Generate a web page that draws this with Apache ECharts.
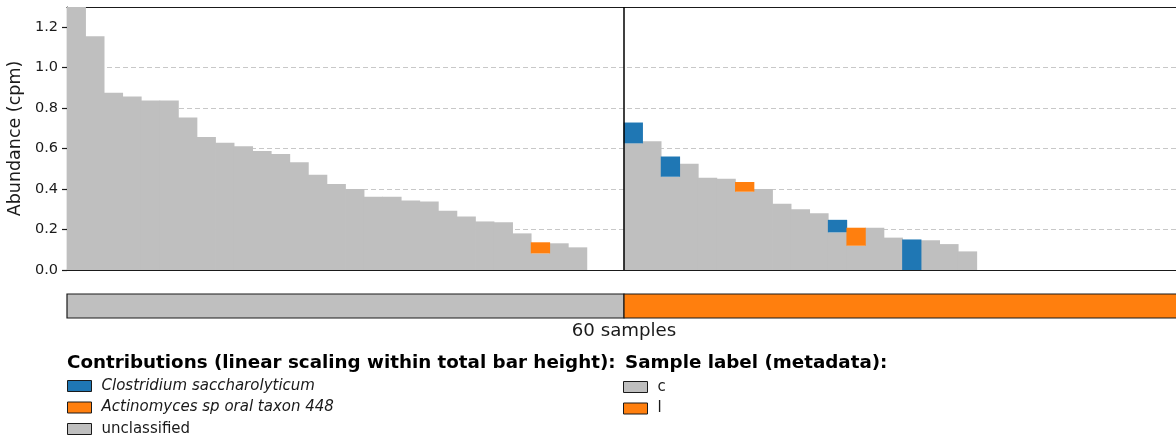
<!DOCTYPE html>
<html>
<head>
<meta charset="utf-8">
<script src="https://cdn.jsdelivr.net/npm/echarts@6/dist/echarts.min.js"></script>
<style>
html,body{margin:0;padding:0;background:#fff;}
#chart{width:1176px;height:441px;}
</style>
</head>
<body>
<div id="chart"></div>
<script>
// ---- data ----
const sampleGroup = [
  'c','c','c','c','c','c','c','c','c','c','c','c','c','c','c','c','c','c','c','c','c','c','c','c','c','c','c','c','c','c',
  'l','l','l','l','l','l','l','l','l','l','l','l','l','l','l','l','l','l','l','l','l','l','l','l','l','l','l','l','l','l'
];
const unclassified = [
  1.40, 1.155, 0.876, 0.858, 0.838, 0.838, 0.754, 0.658, 0.629, 0.612,
  0.588, 0.573, 0.533, 0.471, 0.425, 0.400, 0.362, 0.362, 0.344, 0.339,
  0.293, 0.265, 0.240, 0.236, 0.181, 0.082, 0.132, 0.112, 0, 0,
  0.626, 0.637, 0.461, 0.525, 0.456, 0.451, 0.387, 0.400, 0.327, 0.300,
  0.280, 0.186, 0.120, 0.209, 0.160, 0, 0.147, 0.128, 0.092, 0,
  0, 0, 0, 0, 0, 0, 0, 0, 0, 0
];
const clostridium = [
  0, 0, 0, 0, 0, 0, 0, 0, 0, 0,
  0, 0, 0, 0, 0, 0, 0, 0, 0, 0,
  0, 0, 0, 0, 0, 0, 0, 0, 0, 0,
  0.103, 0, 0.100, 0, 0, 0, 0, 0, 0, 0,
  0, 0.062, 0, 0, 0, 0.151, 0, 0, 0, 0,
  0, 0, 0, 0, 0, 0, 0, 0, 0, 0
];
const actinomyces = [
  0, 0, 0, 0, 0, 0, 0, 0, 0, 0,
  0, 0, 0, 0, 0, 0, 0, 0, 0, 0,
  0, 0, 0, 0, 0, 0.055, 0, 0, 0, 0,
  0, 0, 0, 0, 0, 0, 0.048, 0, 0, 0,
  0, 0, 0.089, 0, 0, 0, 0, 0, 0, 0,
  0, 0, 0, 0, 0, 0, 0, 0, 0, 0
];
const yTicks = [0, 0.2, 0.4, 0.6, 0.8, 1.0, 1.2];
const taxaNames = ['Clostridium saccharolyticum', 'Actinomyces sp oral taxon 448', 'unclassified'];
const groupNames = ['c', 'l'];

// ---- derived ----
const categories = sampleGroup.map((g, i) => g + (i + 1));
const nSamples = sampleGroup.length;
const groupRanges = groupNames.map(g => {
  const s = sampleGroup.indexOf(g);
  const e = sampleGroup.lastIndexOf(g) + 1;
  return [s, e];
});
const boundaries = groupRanges.slice(1).map(r => r[0]);
const nz = arr => arr.map(v => (v > 0 ? v : '-'));

const FONT = 'DejaVu Sans';
const colors = { c: '#bfbfbf', l: '#ff7f0e' };
const taxaColors = ['#1f77b4', '#ff7f0e', '#bfbfbf'];
const YMAX = 1.3;

const chart = echarts.init(document.getElementById('chart'), null, { renderer: 'canvas' });

const groupSeries = groupNames.map((g, gi) => ({
  name: g,
  type: 'custom',
  xAxisIndex: 2,
  yAxisIndex: 1,
  color: colors[g],
  itemStyle: { color: colors[g] },
  silent: true,
  data: [groupRanges[gi]],
  renderItem: function (params, api) {
    const p0 = api.coord([api.value(0), 1]);
    const p1 = api.coord([api.value(1), 0]);
    return {
      type: 'rect',
      shape: { x: p0[0], y: p0[1], width: p1[0] - p0[0], height: p1[1] - p0[1] },
      style: { fill: colors[g], stroke: '#1a1a1a', lineWidth: 1.2 }
    };
  }
}));

function barStyle(c) {
  return { color: c, borderWidth: 0 };
}

const option = {
  animation: false,
  backgroundColor: '#fff',
  textStyle: { fontFamily: FONT },
  grid: [
    { left: 67, right: -5, top: 7, height: 263, containLabel: false, outerBoundsMode: 'none' },
    { left: 67, right: -5, top: 294, height: 24, containLabel: false, outerBoundsMode: 'none' }
  ],
  xAxis: [
    {
      type: 'category', gridIndex: 0, data: categories,
      axisLine: { show: true, lineStyle: { color: '#1a1a1a', width: 1.2 } },
      axisTick: { show: false }, axisLabel: { show: false }, splitLine: { show: false }
    },
    {
      type: 'value', gridIndex: 0, min: 0, max: nSamples, position: 'top',
      axisLine: { show: true, onZero: false, lineStyle: { color: '#1a1a1a', width: 1.2 } },
      axisTick: { show: false }, axisLabel: { show: false }, splitLine: { show: false }
    },
    {
      type: 'value', gridIndex: 1, min: 0, max: nSamples,
      axisLine: { show: false }, axisTick: { show: false }, axisLabel: { show: false }, splitLine: { show: false },
      name: nSamples + ' samples', nameLocation: 'middle', nameGap: 4,
      nameTextStyle: { fontFamily: FONT, fontSize: 18.2, color: '#1a1a1a', verticalAlign: 'top' }
    }
  ],
  yAxis: [
    {
      type: 'value', gridIndex: 0, min: 0, max: YMAX,
      name: 'Abundance (cpm)', nameLocation: 'middle', nameGap: 40, nameRotate: 90,
      nameTextStyle: { fontFamily: FONT, fontSize: 17.5, color: '#1a1a1a' },
      axisLine: { show: true, lineStyle: { color: '#1a1a1a', width: 1.2 } },
      axisTick: { show: true, length: 5, customValues: yTicks, lineStyle: { color: '#1a1a1a', width: 1.2 } },
      axisLabel: {
        customValues: yTicks, margin: 9, fontFamily: FONT, fontSize: 14.5, color: '#1a1a1a',
        formatter: v => Number(v).toFixed(1)
      },
      splitLine: { show: true, showMaxLine: false, lineStyle: { color: '#c8c8c8', type: [5, 3], width: 1.2 } }
    },
    {
      type: 'value', gridIndex: 1, min: 0, max: 1, show: false
    }
  ],
  legend: [
    {
      orient: 'vertical', left: 67, top: 378, padding: 0,
      itemWidth: 24, itemHeight: 11, itemGap: 5.5, icon: 'rect',
      itemStyle: { borderColor: '#1a1a1a', borderWidth: 1 },
      textStyle: { fontFamily: FONT, fontSize: 15, lineHeight: 16, color: '#1a1a1a', padding: [0, 0, 0, 5] },
      selectedMode: false,
      data: [
        { name: taxaNames[0], textStyle: { fontStyle: 'italic' } },
        { name: taxaNames[1], textStyle: { fontStyle: 'italic' } },
        { name: taxaNames[2] }
      ]
    },
    {
      orient: 'vertical', left: 623, top: 379, padding: 0,
      itemWidth: 24, itemHeight: 11, itemGap: 5.5, icon: 'rect',
      itemStyle: { borderColor: '#1a1a1a', borderWidth: 1 },
      textStyle: { fontFamily: FONT, fontSize: 15, lineHeight: 16, color: '#1a1a1a', padding: [0, 0, 0, 5] },
      selectedMode: false,
      data: groupNames
    }
  ],
  graphic: [
    {
      type: 'text', left: 67, top: 354, silent: true,
      style: { text: 'Contributions (linear scaling within total bar height):', font: 'bold 18.3px "DejaVu Sans"', fill: '#000' }
    },
    {
      type: 'text', left: 625, top: 354, silent: true,
      style: { text: 'Sample label (metadata):', font: 'bold 18.3px "DejaVu Sans"', fill: '#000' }
    }
  ],
  series: [
    {
      name: taxaNames[2], type: 'bar', stack: 'total', xAxisIndex: 0, yAxisIndex: 0,
      data: nz(unclassified), barWidth: '104%', clip: true,
      itemStyle: barStyle(taxaColors[2]), silent: true
    },
    {
      name: taxaNames[0], type: 'bar', stack: 'total', xAxisIndex: 0, yAxisIndex: 0,
      data: nz(clostridium), barWidth: '104%', clip: true,
      itemStyle: barStyle(taxaColors[0]), silent: true
    },
    {
      name: taxaNames[1], type: 'bar', stack: 'total', xAxisIndex: 0, yAxisIndex: 0,
      data: nz(actinomyces), barWidth: '104%', clip: true,
      itemStyle: barStyle(taxaColors[1]), silent: true
    },
    {
      name: 'divider', type: 'custom', xAxisIndex: 1, yAxisIndex: 0, silent: true, z: 5,
      data: boundaries.map(b => [b]),
      renderItem: function (params, api) {
        const a = api.coord([api.value(0), 0]);
        const b = api.coord([api.value(0), YMAX]);
        return { type: 'line', shape: { x1: a[0], y1: a[1], x2: b[0], y2: b[1] }, style: { stroke: '#000', lineWidth: 1.5 } };
      }
    }
  ].concat(groupSeries)
};

chart.setOption(option);
</script>
</body>
</html>
